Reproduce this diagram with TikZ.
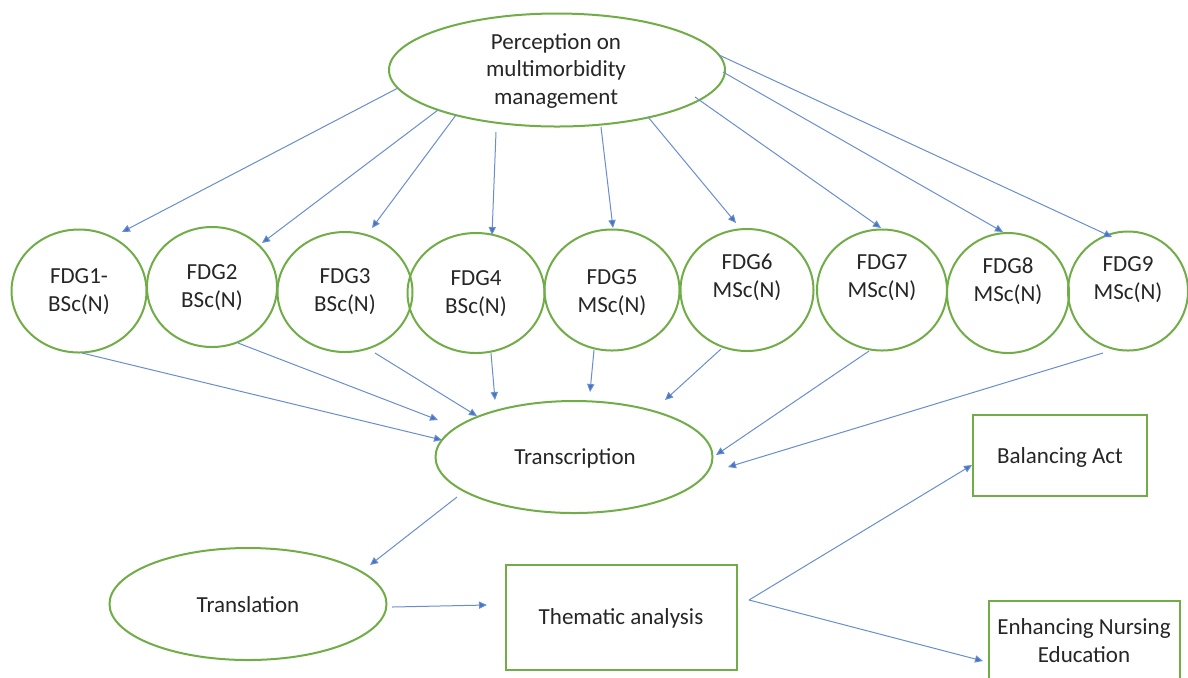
\documentclass[tikz,border=0pt]{standalone}
\usepackage{fontspec}
\setmainfont{Carlito}
\usetikzlibrary{shapes.geometric,arrows.meta,calc}
\definecolor{grn}{RGB}{112,173,71}
\definecolor{blu}{RGB}{68,114,196}
\definecolor{txt}{RGB}{38,38,38}
\begin{document}
\begin{tikzpicture}[x=0.5pt,y=-0.5pt,
  ell/.style={ellipse, draw=grn, line width=1pt, inner sep=0pt},
  lbl/.style={text=txt, font=\fontsize{11.5}{14}\selectfont, align=center, inner sep=0pt},
  bx/.style={rectangle, draw=grn, line width=1pt, inner sep=0pt},
  arr/.style={draw=blu!80, line width=0.5pt, -{Triangle[length=4pt,width=3.6pt,fill=blu]}}]
\useasboundingbox (0,0) rectangle (1188,677);
\clip (0,0) rectangle (1188,677);
\fill[white] (0,0) rectangle (1188,677);

% top ellipse
\node[ell, minimum width=168pt, minimum height=56.5pt] (top) at (557,70) {};
\node[lbl, font=\fontsize{11.5}{13.8}\selectfont] (toptxt) at (556,71) {Perception on\\multimorbidity\\management};

% FDG circles
\node[ell, minimum width=67.5pt, minimum height=61.5pt] (f1) at (79,291) {};
\node[ell, minimum width=65pt, minimum height=60pt] (f2) at (212,287) {};
\node[ell, minimum width=67.5pt, minimum height=60pt] (f3) at (345,292) {};
\node[ell, minimum width=68.5pt, minimum height=60pt] (f4) at (476,293) {};
\node[ell, minimum width=67.5pt, minimum height=60.5pt] (f5) at (612,290) {};
\node[ell, minimum width=66.5pt, minimum height=61pt] (f6) at (747,290) {};
\node[ell, minimum width=65pt, minimum height=60.5pt] (f7) at (882,290) {};
\node[ell, minimum width=61pt, minimum height=60pt] (f8) at (1008,293) {};
\node[ell, minimum width=60pt, minimum height=59.5pt] (f9) at (1128,291) {};

\node[lbl] (t1) at (79,292) {FDG1-\\BSc(N)};
\node[lbl] (t2) at (212,288) {FDG2\\BSc(N)};
\node[lbl] (t3) at (345,292) {FDG3\\BSc(N)};
\node[lbl] (t4) at (476,294) {FDG4\\BSc(N)};
\node[lbl] (t5) at (612,293) {FDG5\\MSc(N)};
\node[lbl] (t6) at (747,277) {FDG6\\MSc(N)};
\node[lbl] (t7) at (882,278) {FDG7\\MSc(N)};
\node[lbl] (t8) at (1008,281) {FDG8\\MSc(N)};
\node[lbl] (t9) at (1128,280) {FDG9\\MSc(N)};

% Transcription / Translation
\node[ell, minimum width=138.5pt, minimum height=56pt] (tr) at (574,457) {};
\node[lbl] (trtxt) at (575,458) {Transcription};
\node[ell, minimum width=138.5pt, minimum height=56pt] (tl) at (248,604) {};
\node[lbl] (tltxt) at (248,605) {Translation};

% boxes
\node[bx, minimum width=115.5pt, minimum height=52.5pt] (th) at (621.5,617.5) {};
\node[lbl] (thtxt) at (621,618) {Thematic analysis};
\node[bx, minimum width=87pt, minimum height=40.5pt] (ba) at (1060,455.5) {};
\node[lbl] (batxt) at (1060,457) {Balancing Act};
\node[bx, minimum width=95.5pt, minimum height=44.5pt] (en) at (1084.5,645.5) {};
\node[lbl] (entxt) at (1084,641) {Enhancing Nursing\\Education};

% top -> FDG
\draw[arr] ($(top)+(-159,18)$) -- ($(f1)+(43,-59)$);
\draw[arr] ($(top)+(-119,40)$) -- ($(f2)+(50,-44)$);
\draw[arr] ($(top)+(-101,45)$) -- ($(f3)+(27,-64)$);
\draw[arr] ($(top)+(-61,62)$) -- ($(f4)+(16,-58)$);
\draw[arr] ($(top)+(44,57)$) -- ($(f5)+(1,-62)$);
\draw[arr] ($(top)+(91,47)$) -- ($(f6)+(-11,-67)$);
\draw[arr] ($(top)+(138,27)$) -- ($(f7)+(-1,-62)$);
\draw[arr] ($(top)+(166,2)$) -- ($(f8)+(-5,-61)$);
\draw[arr] ($(top)+(162,-15)$) -- ($(f9)+(-16,-54)$);

% FDG -> Transcription
\draw[arr] ($(f1)+(3,62)$) -- ($(tr)+(-132,-17)$);
\draw[arr] ($(f2)+(26,56)$) -- ($(tr)+(-136,-37)$);
\draw[arr] ($(f3)+(30,61)$) -- ($(tr)+(-97,-41)$);
\draw[arr] ($(f4)+(15,60)$) -- ($(tr)+(-79,-57)$);
\draw[arr] ($(f5)+(-18,60)$) -- ($(tr)+(16,-65)$);
\draw[arr] ($(f6)+(-26,59)$) -- ($(tr)+(91,-57)$);
\draw[arr] ($(f7)+(-13,61)$) -- ($(tr)+(142,-2)$);
\draw[arr] ($(f9)+(-25,62)$) -- ($(tr)+(154,10)$);

% lower flow
\draw[arr] ($(tr)+(-117,40)$) -- ($(tl)+(122,-39)$);
\draw[arr] ($(tl)+(144,3)$) -- ($(th)+(-134.5,-12.5)$);
\coordinate (v) at ($(th)+(127.5,-17.5)$);
\draw[arr] (v) -- ($(ba)+(-88,9.5)$);
\draw[arr] (v) -- ($(en)+(-101.5,15.5)$);
\end{tikzpicture}
\end{document}
